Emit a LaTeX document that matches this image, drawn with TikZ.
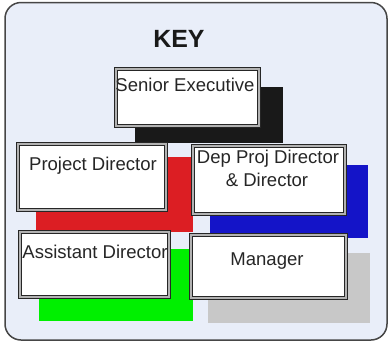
\documentclass[tikz,border=0pt]{standalone}
\usepackage{fontspec}
\setmainfont{Liberation Sans}
\definecolor{bgcol}{RGB}{233,238,249}
\definecolor{framecol}{RGB}{70,70,70}
\definecolor{redkey}{RGB}{220,30,35}
\definecolor{bluekey}{RGB}{20,20,200}
\definecolor{greenkey}{RGB}{0,240,0}
\definecolor{greykey}{RGB}{200,200,200}
\definecolor{blackkey}{RGB}{25,25,25}
\begin{document}
\begin{tikzpicture}[x=1bp,y=-1bp,
  swatch/.style={fill=#1,draw=none},
  rolebox/.style={draw=black!85,line width=1bp,double=gray!60,double distance=1.8bp,fill=white},
  roletext/.style={font=\fontsize{18.6}{20}\selectfont,text=black!85,inner sep=0pt},
  keytext/.style={font=\fontsize{25}{27}\bfseries\selectfont,text=black!90,inner sep=0pt}]
\useasboundingbox (0,0) rectangle (390,342);
\draw[fill=bgcol,draw=framecol,line width=1.5bp,rounded corners=16bp] (5,2.5) rectangle (387,340);
\node[keytext] (key) at (179,39) {KEY};
% colour swatches
\path[swatch=blackkey] (135,87) rectangle (283,143);
\path[swatch=redkey] (36,157) rectangle (193,232);
\path[swatch=bluekey] (210,165) rectangle (368,238);
\path[swatch=greenkey] (39,249) rectangle (193,321);
\path[swatch=greykey] (208,253) rectangle (370,323);
% role boxes
\draw[rolebox] (116,69) rectangle (259,126);
\draw[rolebox] (18,144) rectangle (166,210);
\draw[rolebox] (193,146) rectangle (345,214);
\draw[rolebox] (20,232) rectangle (169,297);
\draw[rolebox] (191,235) rectangle (346,298);
% texts
\node[roletext] (se) at (185,85) {Senior Executive};
\node[roletext] (pd) at (93,166) {Project Director};
\node[roletext] (dp) at (268,159) {Dep Proj Director};
\node[roletext] (dp2) at (267,180) {\& Director};
\begin{scope}
\clip (22,234) rectangle (167,295);
\node[roletext] (ad) at (95,252) {Assistant Director};
\end{scope}
\node[roletext] (mg) at (267,261) {Manager};
\end{tikzpicture}
\end{document}
